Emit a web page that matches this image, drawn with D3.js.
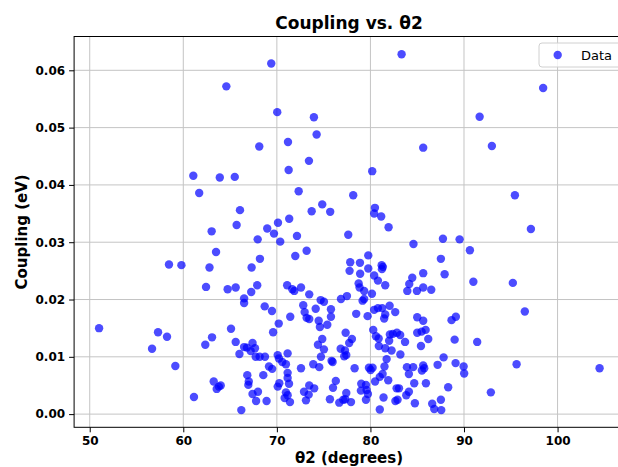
<!DOCTYPE html>
<html><head><meta charset="utf-8">
<script src="https://cdn.jsdelivr.net/npm/d3@7"></script>
<style>body{margin:0;background:#fff}svg{display:block}text{font-family:"DejaVu Sans",sans-serif}</style>
</head><body><svg id="c" width="618" height="467"></svg>
<script>
const theta2 = [64.6,61.07,63.9,65.5,61.7,66.06,65.7,63.03,63.5,58.47,59.8,62.8,67.3,62.43,64.74,65.6,67.26,67.9,66.5,66.5,51.0,57.3,58.26,56.66,59.15,65.1,65.6,63.07,62.35,67.4,66.5,66.8,67.2,67.66,66.0,66.84,67.0,66.95,63.25,63.57,63.8,64.0,67.4,67.78,61.14,66.2,
69.4,83.33,70.04,73.96,74.25,71.19,68.12,85.64,73.43,71.26,80.19,72.33,78.16,74.85,73.72,75.7,80.48,80.4,81.15,81.94,70.12,71.32,68.97,
98.46,91.67,92.98,95.44,97.15,
87.75,89.53,90.63,87.53,87.93,91.0,95.22,86.5,96.5,88.67,89.13,86.18,89.0,91.41,87.82,87.18,89.1,89.96,90.02,95.62,104.49,88.31,92.87,86.6,87.53,86.82,87.57,
69.69,67.95,70.36,72.15,77.63,84.6,68.19,71.97,73.18,71.1,71.65,71.86,72.58,73.46,77.84,78.88,79.77,77.77,78.9,79.77,81.2,81.33,81.23,80.4,80.8,81.58,78.74,78.84,79.33,80.16,79.33,79.16,76.85,77.49,74.68,75.03,83.94,84.15,84.47,84.97,85.64,85.64,
68.7,69.48,70.2,69.6,71.43,72.82,72.97,73.18,73.46,74.15,75.78,75.78,74.47,74.6,75.39,78.48,79.7,80.4,80.8,81.26,81.58,81.47,82.05,82.65,80.3,80.59,80.88,82.08,82.4,83.18,82.83,82.0,83.7,85.0,85.64,85.0,85.47,85.9,85.4,80.9,81.58,82.26,83.2,81.73,
77.35,78.02,77.73,76.82,77.28,77.42,77.2,74.85,74.39,75.03,74.71,75.85,75.96,73.89,74.53,72.58,78.31,79.84,80.02,80.23,81.5,81.3,81.0,80.5,81.9,83.9,84.57,84.11,85.64,85.5,85.75,84.68,85.93,82.8,83.05,82.9,82.67,84.11,83.83,84.75,81.4,81.0,
79.52,79.59,79.73,79.52,79.02,78.98,76.3,76.0,75.67,76.67,77.1,77.42,77.31,77.92,73.46,73.99,72.9,73.4,73.11,
71.15,67.74,68.16,68.73,70.09,70.22,70.58,70.97,71.15,71.15,71.3,70.97,70.83,71.15,71.4,70.09,70.26,68.55,69.16,69.5,67.98,68.9];
const coupling = [0.0572,0.0416,0.0413,0.0414,0.0386,0.0356,0.0330,0.0319,0.0283,0.0261,0.0260,0.0256,0.0256,0.0222,0.0218,0.0221,0.0213,0.0225,0.0202,0.0194,0.0150,0.0143,0.0135,0.0114,0.0084,0.0149,0.0126,0.0134,0.0121,0.0124,0.0117,0.0116,0.0110,0.0115,0.0105,0.0068,0.0057,0.0051,0.0057,0.0044,0.0048,0.0050,0.0035,0.0023,0.0030,0.0007,
0.0612,0.0628,0.0527,0.0518,0.0488,0.0475,0.0467,0.0465,0.0442,0.0426,0.0424,0.0389,0.0382,0.0366,0.0354,0.0353,0.0360,0.0350,0.0345,0.0326,0.0334,0.0341,0.0324,
0.0569,0.0519,0.0468,0.0382,0.0323,
0.0306,0.0305,0.0286,0.0271,0.0244,0.0231,0.0229,0.0217,0.0179,0.0164,0.0170,0.0131,0.0130,0.0126,0.0099,0.0086,0.0089,0.0083,0.0071,0.0087,0.0080,0.0047,0.0038,0.0018,0.0025,0.0009,0.0007,
0.0315,0.0305,0.0301,0.0311,0.0313,0.0297,0.0271,0.0276,0.0285,0.0225,0.0218,0.0215,0.0221,0.0209,0.0265,0.0264,0.0277,0.0250,0.0245,0.0254,0.0260,0.0257,0.0253,0.0242,0.0233,0.0225,0.0228,0.0221,0.0215,0.0210,0.0201,0.0198,0.0201,0.0206,0.0199,0.0196,0.0215,0.0227,0.0238,0.0215,0.0221,0.0246,
0.0188,0.0180,0.0158,0.0143,0.0170,0.0190,0.0178,0.0168,0.0166,0.0184,0.0183,0.0170,0.0163,0.0152,0.0156,0.0175,0.0171,0.0182,0.0185,0.0185,0.0174,0.0167,0.0189,0.0178,0.0147,0.0136,0.0132,0.0139,0.0140,0.0138,0.0142,0.0128,0.0126,0.0169,0.0163,0.0142,0.0144,0.0147,0.0119,0.0119,0.0115,0.0111,0.0104,0.0096,
0.0142,0.0131,0.0124,0.0114,0.0111,0.0103,0.0101,0.0131,0.0121,0.0113,0.0100,0.0093,0.0091,0.0087,0.0082,0.0080,0.0080,0.0081,0.0077,0.0081,0.0083,0.0070,0.0065,0.0057,0.0059,0.0082,0.0082,0.0070,0.0085,0.0076,0.0080,0.0054,0.0054,0.0045,0.0045,0.0025,0.0023,0.0039,0.0033,0.0019,0.0029,0.0008,
0.0051,0.0042,0.0035,0.0025,0.0053,0.0041,0.0058,0.0046,0.0026,0.0020,0.0025,0.0037,0.0026,0.0021,0.0050,0.0045,0.0039,0.0034,0.0024,
0.0106,0.0100,0.0100,0.0100,0.0103,0.0097,0.0091,0.0087,0.0072,0.0063,0.0053,0.0038,0.0028,0.0033,0.0021,0.0048,0.0054,0.0068,0.0083,0.0079,0.0039,0.0023];
const xTicks = [50,60,70,80,90,100];
const yTicks = [0.00,0.01,0.02,0.03,0.04,0.05,0.06];
const titleText = "Coupling vs. θ2";
const xLabel = "θ2 (degrees)";
const yLabel = "Coupling (eV)";
const legendLabel = "Data";

const svg = d3.select("#c");
const L=74.1, R=624, T=36.5, B=427.3;
const x = d3.scaleLinear().domain([48.33,107.1]).range([L,R]);
const y = d3.scaleLinear().domain([-0.0023,0.0659]).range([B,T]);

// grid
const g = svg.append("g");
g.selectAll(".vx").data(xTicks).join("line").attr("x1",d=>x(d)).attr("x2",d=>x(d)).attr("y1",T).attr("y2",B).attr("stroke","#c4c4c4").attr("stroke-width",1);
g.selectAll(".hy").data(yTicks).join("line").attr("y1",d=>y(d)).attr("y2",d=>y(d)).attr("x1",L).attr("x2",R).attr("stroke","#c4c4c4").attr("stroke-width",1);

// points
const data = theta2.map((v,i)=>[v,coupling[i]]);
svg.append("g").selectAll("circle").data(data).join("circle")
  .attr("cx",d=>x(d[0])).attr("cy",d=>y(d[1])).attr("r",4.2)
  .attr("fill","blue").attr("fill-opacity",0.7);

// axes
const xa = svg.append("g").attr("transform",`translate(0,${B})`)
  .call(d3.axisBottom(x).tickValues(xTicks).tickSize(5).tickPadding(4).tickFormat(d3.format("d")));
const ya = svg.append("g").attr("transform",`translate(${L},0)`)
  .call(d3.axisLeft(y).tickValues(yTicks).tickSize(5).tickPadding(4).tickFormat(d3.format(".2f")));
[xa,ya].forEach(a=>{
  a.select(".domain").remove();
  a.selectAll("text").attr("font-size",12).attr("font-weight","bold").attr("fill","#000").attr("font-family","DejaVu Sans");
  a.selectAll("line").attr("stroke","#000");
});
// spines
svg.append("rect").attr("x",L).attr("y",T).attr("width",R-L).attr("height",B-T).attr("fill","none").attr("stroke","#000").attr("stroke-width",1);

// labels
svg.append("text").attr("x",(L+R)/2).attr("y",29).attr("text-anchor","middle").attr("font-size",17).attr("font-weight","bold").text(titleText);
svg.append("text").attr("x",(L+R)/2).attr("y",462.5).attr("text-anchor","middle").attr("font-size",15).attr("font-weight","bold").text(xLabel);
svg.append("text").attr("transform",`translate(27,${(T+B)/2}) rotate(-90)`).attr("text-anchor","middle").attr("font-size",15).attr("font-weight","bold").text(yLabel);

// legend
const lg = svg.append("g");
lg.append("rect").attr("x",539).attr("y",43).attr("width",90).attr("height",24).attr("rx",3).attr("fill","#fff").attr("fill-opacity",0.8).attr("stroke","#d0d0d0");
lg.append("circle").attr("cx",557.7).attr("cy",55).attr("r",4.2).attr("fill","blue").attr("fill-opacity",0.7);
lg.append("text").attr("x",581).attr("y",59.5).attr("font-size",13).text(legendLabel);
</script></body></html>
